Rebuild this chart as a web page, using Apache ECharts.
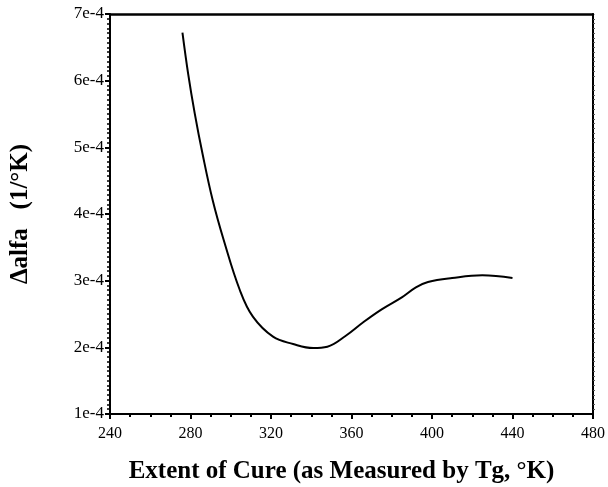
<!DOCTYPE html>
<html>
<head>
    <meta charset="utf-8">
    <title>Delta alfa vs extent of cure</title>
    <script src="https://cdn.jsdelivr.net/npm/echarts@6/dist/echarts.min.js"></script>
</head>
<body style="margin: 0; padding: 0; background: #fff;">
<div id="main" style="width: 608px; height: 487px;"></div>
<script type="text/javascript">
    // Tg (°K) and delta alfa (1/°K)
    var tg = [276, 278.8, 282.1, 286, 291, 296.5, 304.5, 311, 321, 331, 341, 348, 357, 366, 375, 385, 392, 398, 410, 425, 440];
    var dalfa = [6.72e-4, 6.11e-4, 5.51e-4, 4.90e-4, 4.21e-4, 3.61e-4, 2.86e-4, 2.46e-4, 2.16e-4, 2.05e-4,
                 1.99e-4, 2.01e-4, 2.17e-4, 2.38e-4, 2.57e-4, 2.75e-4, 2.90e-4, 2.98e-4, 3.04e-4, 3.08e-4, 3.04e-4];
    var yTickLabels = ['1e-4', '2e-4', '3e-4', '4e-4', '5e-4', '6e-4', '7e-4'];

    var pts = [];
    for (var i = 0; i < tg.length; i++) {
        pts.push([tg[i], dalfa[i]]);
    }

    var serif = '"Liberation Serif", "DejaVu Serif", serif';
    var myChart = echarts.init(document.getElementById('main'));

    var option = {
        animation: false,
        grid: { left: 110, right: 15, top: 14, bottom: 73, outerBoundsMode: 'none', containLabel: false },
        xAxis: [{
            type: 'value',
            min: 240, max: 480, interval: 40,
            name: 'Extent of Cure (as Measured by Tg, °K)',
            nameLocation: 'middle',
            nameGap: 45,
            nameTextStyle: { fontFamily: serif, fontWeight: 'bold', fontSize: 25, color: '#000', padding: [0, 20, 0, 0] },
            axisLine: { lineStyle: { color: '#000', width: 2 } },
            axisTick: { length: 5, lineStyle: { color: '#000', width: 2 } },
            minorTick: { show: true, splitNumber: 4, length: 3, lineStyle: { color: '#000', width: 2 } },
            axisLabel: { fontFamily: serif, fontSize: 16, color: '#000', margin: 12 },
            splitLine: { show: false }
        }, {
            type: 'value', position: 'top',
            min: 240, max: 480,
            axisLine: { show: true, lineStyle: { color: '#000', width: 2.5 } },
            axisTick: { show: false }, axisLabel: { show: false }, splitLine: { show: false }
        }],
        yAxis: [{
            type: 'value',
            min: 1e-4, max: 7e-4, interval: 1e-4,
            name: 'Δalfa   (1/°K)',
            nameLocation: 'middle',
            nameGap: 77,
            nameTextStyle: { fontFamily: serif, fontWeight: 'bold', fontSize: 25, color: '#000' },
            axisLine: { show: true, lineStyle: { color: '#000', width: 2 } },
            axisTick: { length: 5, lineStyle: { color: '#000', width: 2 } },
            minorTick: { show: true, splitNumber: 14, length: 3, lineStyle: { color: '#000', width: 1.5 } },
            axisLabel: {
                fontFamily: serif, fontSize: 17, color: '#000', margin: 6,
                formatter: function (v) {
                    var k = Math.round(v * 1e4);
                    return yTickLabels[k - 1];
                }
            },
            splitLine: { show: false }
        }, {
            type: 'value', position: 'right',
            min: 1e-4, max: 7e-4, interval: 1e-4,
            axisLine: { show: true, lineStyle: { color: '#000', width: 2 } },
            axisTick: { show: false },
            minorTick: { show: true, splitNumber: 14, length: 2, lineStyle: { color: '#555', width: 1 } },
            axisLabel: { show: false }, splitLine: { show: false }
        }],
        series: [{
            type: 'line',
            data: pts,
            smooth: 0.4,
            symbol: 'none',
            lineStyle: { color: '#000', width: 2 }
        }]
    };

    myChart.setOption(option);
</script>
</body>
</html>
